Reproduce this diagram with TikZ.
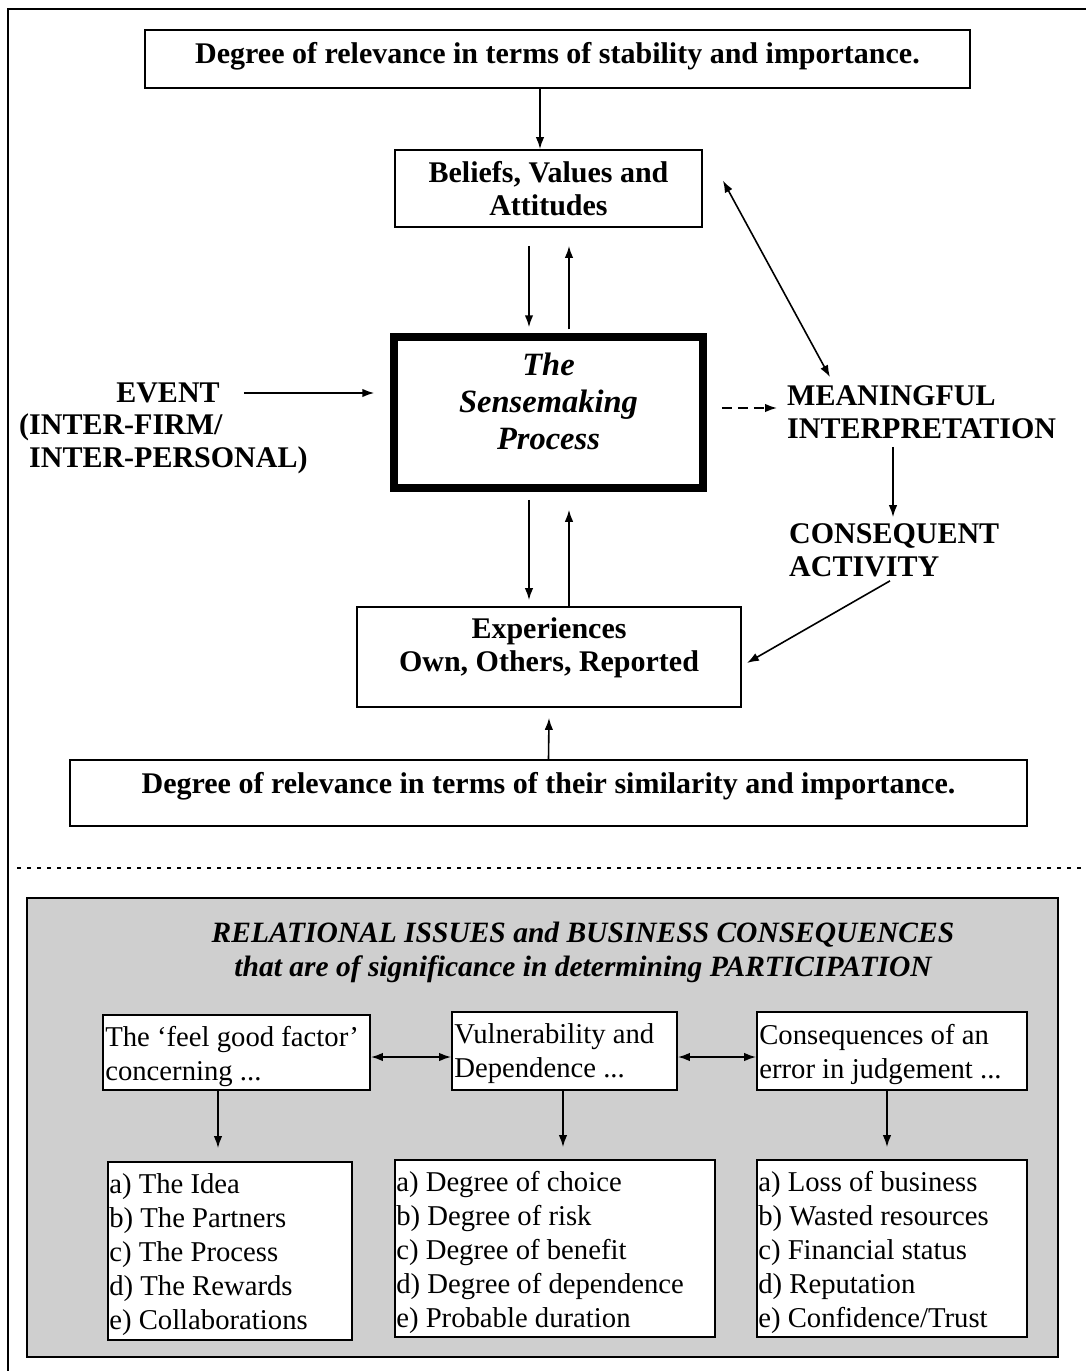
\documentclass[tikz,border=0pt]{standalone}
\usepackage{fontspec}
\setmainfont{Liberation Serif}
\usetikzlibrary{arrows.meta,calc}
\begin{document}
\begin{tikzpicture}[x=1pt,y=-1pt,
  boxed/.style={draw,line width=1.8pt,inner sep=0pt,fill=white},
  heavy/.style={draw,line width=7.5pt,inner sep=0pt,fill=white},
  plain/.style={inner sep=0pt},
  big/.style={font=\fontsize{30}{33}\selectfont\bfseries},
  bigit/.style={font=\fontsize{32.5}{37}\selectfont\bfseries\itshape},
  body/.style={font=\fontsize{28.7}{34}\selectfont,align=left,inner sep=0pt,anchor=west},
  arr/.style={line width=1.6pt,-{Latex[length=12pt,width=8.5pt]}},
  darr/.style={line width=1.6pt,{Latex[length=12pt,width=8.5pt]}-{Latex[length=12pt,width=8.5pt]}}]
\useasboundingbox (0,0) rectangle (1086,1371);

% page frame and separator
\draw[line width=2pt] (8,1371) -- (8,9) -- (1086,9);
\draw[line width=1.6pt,dash pattern=on 4pt off 6pt] (17,868) -- (1086,868);

% upper model: boxes
\node[boxed,minimum width=825,minimum height=58] (top) at (557.5,59) {};
\node[boxed,big,align=center,minimum width=307,minimum height=77] (bel) at (548.5,188.5)
  {Beliefs, Values and\\Attitudes};
\node[heavy,minimum width=309,minimum height=151] (sm) at (548.5,412.5) {};
\node[boxed,minimum width=384,minimum height=100] (exp) at (549,657) {};
\node[boxed,minimum width=957,minimum height=66] (bot) at (548.5,793) {};

% upper model: box texts
\node[plain,big] (topt) at (top.center |- 0,56)
  {Degree of relevance in terms of stability and importance.};
\node[plain,bigit,align=center] (smt) at (sm.center |- 0,401) {The\\Sensemaking\\Process};
\node[plain,big,align=center] (expt) at (exp.center |- 0,648) {Experiences\\Own, Others, Reported};
\node[plain,big] (bott) at (bot.center |- 0,786)
  {Degree of relevance in terms of their similarity and importance.};

% free labels
\node[plain,big] (ev) at (168,393) {EVENT};
\node[plain,big,align=left,anchor=west] (evs) at (19,444) {(INTER-FIRM/\\\hspace*{10pt}INTER-PERSONAL)};
\node[plain,big,align=left,anchor=west] (mi) at (787,412) {MEANINGFUL\\INTERPRETATION};
\node[plain,big,align=left,anchor=west] (ca) at (789,550) {CONSEQUENT\\ACTIVITY};

\coordinate (ax) at (540,0);
\coordinate (lx) at (529,0);
\coordinate (rx) at (569,0);
\coordinate (mx) at (893,0);

\draw[arr] (top.south -| ax) -- (bel.north -| ax);
\draw[arr] ($(bel.south -| lx)+(0,18)$) -- ($(sm.north -| lx)+(0,-6)$);
\draw[arr] ($(sm.north -| rx)+(0,-4)$) -- ($(bel.south -| rx)+(0,18)$);
\draw[arr] ($(sm.south -| lx)+(0,8)$) -- ($(exp.north -| lx)+(0,-6)$);
\draw[arr] (exp.north -| rx) -- ($(sm.south -| rx)+(0,18)$);
\draw[arr] (bot.north) -- ($(exp.south)+(0,10)$);
\draw[arr] ($(ev.east)+(24,0)$) -- ($(sm.west |- ev.east)+(-16,0)$);
\draw[arr,dash pattern=on 10pt off 6pt] ($(sm.east)+(15,-4.5)$) -- ($(mi.west)+(-10,-4)$);
\draw[darr] ($(bel.east)+(20,-8)$) -- ($(mi.north west)+(43,-8)$);
\draw[arr] ($(mi.south -| mx)+(0,8)$) -- ($(ca.north -| mx)+(0,-6)$);
\draw[arr] ($(ca.south west)+(101,4)$) -- ($(exp.east)+(5,6)$);

% lower panel
\draw[line width=2pt,fill=black!19] (27,898) rectangle (1058,1357);
\node[plain,font=\fontsize{29.5}{34}\selectfont\bfseries\itshape,align=center] (hd) at (583,952)
  {RELATIONAL ISSUES and BUSINESS CONSEQUENCES\\that are of significance in determining PARTICIPATION};

% issue boxes
\node[boxed,minimum width=267,minimum height=75] (fa) at (236.5,1052.5) {};
\node[boxed,minimum width=225,minimum height=78] (fb) at (564.5,1051) {};
\node[boxed,minimum width=270,minimum height=78] (fc) at (892,1051) {};
\node[boxed,minimum width=244,minimum height=178] (la) at (230,1251) {};
\node[boxed,minimum width=320,minimum height=177] (lb) at (555,1248.5) {};
\node[boxed,minimum width=270,minimum height=177] (lc) at (892,1248.5) {};

% issue texts
\node[body] (fat) at ($(fa.west)+(3,4)$) {The ‘feel good factor’\\concerning ...};
\node[body] (fbt) at ($(fb.west)+(3,3)$) {Vulnerability and\\Dependence ...};
\node[body] (fct) at ($(fc.west)+(3,3)$) {Consequences of an\\error in judgement ...};
\node[body] (lat) at ($(la.west)+(2,4)$)
  {a) The Idea\\b) The Partners\\c) The Process\\d) The Rewards\\e) Collaborations};
\node[body] (lbt) at ($(lb.west)+(2,4)$)
  {a) Degree of choice\\b) Degree of risk\\c) Degree of benefit\\d) Degree of dependence\\e) Probable duration};
\node[body] (lct) at ($(lc.west)+(2,4)$)
  {a) Loss of business\\b) Wasted resources\\c) Financial status\\d) Reputation\\e) Confidence/Trust};

\coordinate (c1) at (218,0);
\coordinate (c2) at (563,0);
\coordinate (c3) at (887,0);
\coordinate (hy) at (0,1057);

\draw[darr] (fa.east |- hy) -- (fb.west |- hy);
\draw[darr] (fb.east |- hy) -- (fc.west |- hy);
\draw[arr] (fa.south -| c1) -- ($(la.north -| c1)+(0,-13)$);
\draw[arr] (fb.south -| c2) -- ($(lb.north -| c2)+(0,-12)$);
\draw[arr] (fc.south -| c3) -- ($(lc.north -| c3)+(0,-12)$);
\end{tikzpicture}
\end{document}
